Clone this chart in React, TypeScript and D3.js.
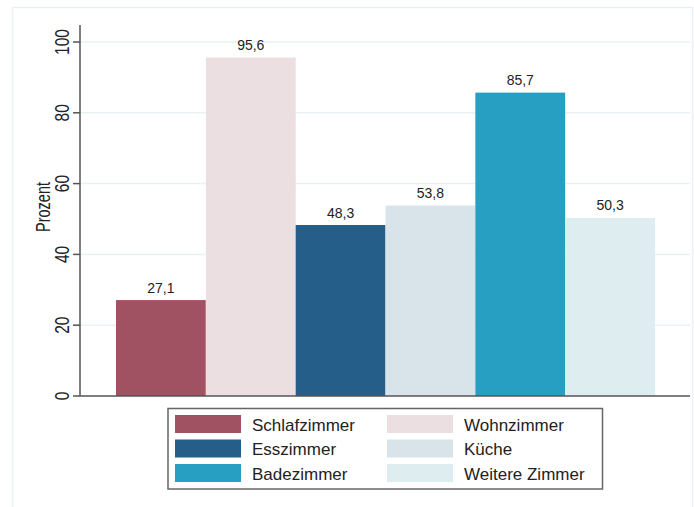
import * as d3 from "d3"
import { useEffect, useRef } from "react"
import * as React from "react"

const categories = ["Schlafzimmer", "Wohnzimmer", "Esszimmer", "Küche", "Badezimmer", "Weitere Zimmer"]
const values = [27.1, 95.6, 48.3, 53.8, 85.7, 50.3]
const colors = ["#a05262", "#ebdfe2", "#265e8a", "#d9e3ea", "#279fc2", "#ddedf0"]
const yTicks = [0, 20, 40, 60, 80, 100]

function buildSVG(node: SVGSVGElement) {
  const width = 694
  const height = 507
  const svg = d3.select(node)
  svg.selectAll("*").remove()
  svg.attr("width", width).attr("height", height)
    .style("font-family", "Arial, 'Liberation Sans', sans-serif")

  // outer frame
  svg.append("rect")
    .attr("x", 12.5).attr("y", 7.5)
    .attr("width", 680).attr("height", 510)
    .attr("fill", "#fff").attr("stroke", "#eaf1f4").attr("stroke-width", 1.5)

  const y = d3.scaleLinear().domain([0, 100]).range([396, 42])
  const x = d3.scaleBand().domain(categories).range([116, 655]).padding(0)
  const plotLeft = 80
  const plotRight = 690

  // gridlines
  svg.append("g")
    .selectAll("line")
    .data(yTicks.slice(1))
    .join("line")
    .attr("x1", plotLeft).attr("x2", plotRight)
    .attr("y1", d => y(d)).attr("y2", d => y(d))
    .attr("stroke", "#eaf1f4").attr("stroke-width", 1.5)

  // bars
  svg.append("g")
    .selectAll("rect")
    .data(values)
    .join("rect")
    .attr("x", (d, i) => x(categories[i]))
    .attr("width", x.bandwidth())
    .attr("y", d => y(d))
    .attr("height", d => y(0) - y(d))
    .attr("fill", (d, i) => colors[i])

  // value labels
  svg.append("g")
    .selectAll("text")
    .data(values)
    .join("text")
    .attr("x", (d, i) => x(categories[i]) + x.bandwidth() / 2)
    .attr("y", d => y(d) - 7.5)
    .attr("text-anchor", "middle")
    .attr("font-size", 14)
    .attr("fill", "#222")
    .text(d => d.toFixed(1).replace(".", ","))

  // y axis
  const axis = svg.append("g")
  axis.append("line")
    .attr("x1", plotLeft).attr("x2", plotLeft)
    .attr("y1", y(104.8)).attr("y2", y(0))
    .attr("stroke", "#555").attr("stroke-width", 1.5)
  axis.selectAll("line.tick")
    .data(yTicks)
    .join("line")
    .attr("class", "tick")
    .attr("x1", plotLeft - 7).attr("x2", plotLeft)
    .attr("y1", d => y(d)).attr("y2", d => y(d))
    .attr("stroke", "#555").attr("stroke-width", 1.5)
  // rotated labels in the reference are drawn taller than wide
  axis.selectAll("text")
    .data(yTicks)
    .join("text")
    .attr("transform", d => `translate(69,${y(d)}) rotate(-90) scale(1,1.35)`)
    .attr("text-anchor", "middle")
    .attr("font-size", 15.5)
    .attr("fill", "#222")
    .text(d => d)

  // x axis
  svg.append("line")
    .attr("x1", plotLeft).attr("x2", plotRight)
    .attr("y1", y(0)).attr("y2", y(0))
    .attr("stroke", "#555").attr("stroke-width", 1.5)

  svg.append("text")
    .attr("transform", `translate(50,207) rotate(-90) scale(1,1.35)`)
    .attr("text-anchor", "middle")
    .attr("font-size", 14.5)
    .attr("fill", "#222")
    .text("Prozent")

  // legend
  const legend = svg.append("g")
  legend.append("rect")
    .attr("x", 168).attr("y", 408.5)
    .attr("width", 434.5).attr("height", 80.5)
    .attr("fill", "#fff").attr("stroke", "#666").attr("stroke-width", 1.5)
  const items = legend.selectAll("g")
    .data(categories)
    .join("g")
    .attr("transform", (d, i) => `translate(${i % 2 === 0 ? 175 : 387},${415 + Math.floor(i / 2) * 24.5})`)
  items.append("rect")
    .attr("width", 66).attr("height", 18)
    .attr("fill", (d, i) => colors[i])
  items.append("text")
    .attr("x", 77).attr("y", 15.5)
    .attr("font-size", 17)
    .attr("fill", "#222")
    .text(d => d)
}

export default function App() {
  const ref = useRef<SVGSVGElement>(null)
  useEffect(() => {
    document.body.style.margin = "0"
    buildSVG(ref.current)
  }, [])
  return <svg ref={ref} style={{ display: "block" }} />
}
